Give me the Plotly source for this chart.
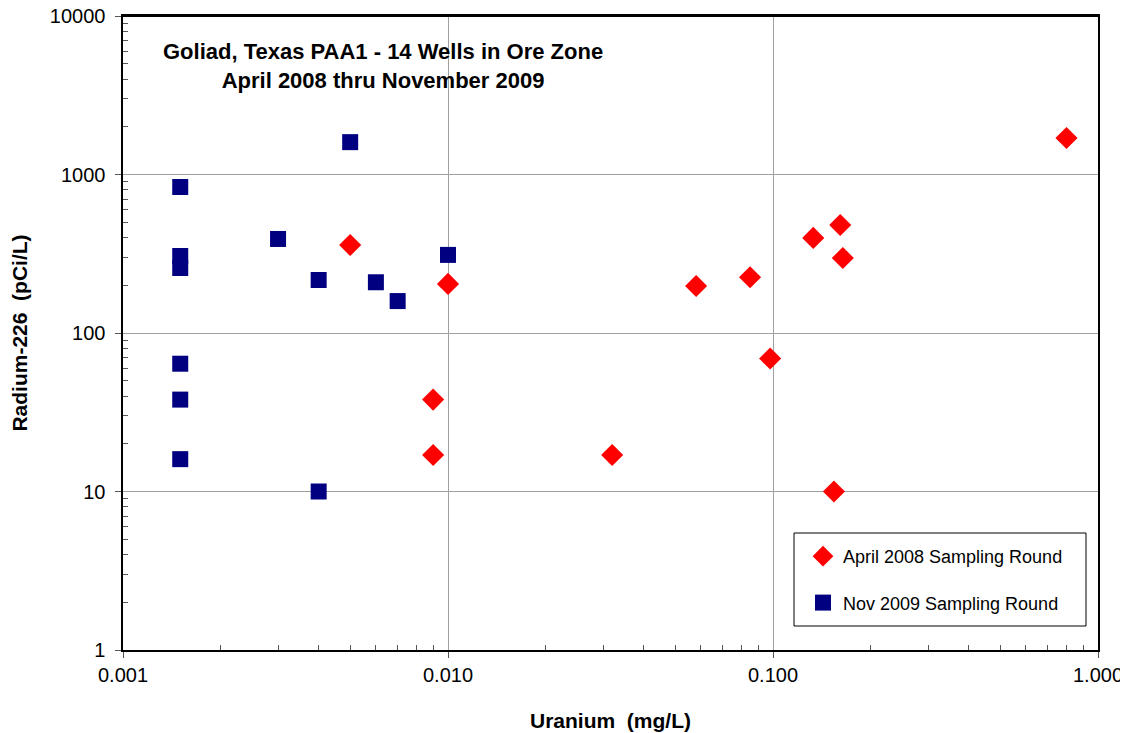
import plotly.graph_objects as go

# April 2008 sampling round (red diamonds)
apr_uranium = [0.005, 0.010, 0.009, 0.009, 0.032, 0.058, 0.085, 0.098, 0.133, 0.161, 0.164, 0.154, 0.80]
apr_radium = [359, 204, 38, 17, 17, 198, 225, 69, 398, 480, 297, 10, 1700]

# Nov 2009 sampling round (navy squares)
nov_uranium = [0.0015, 0.0015, 0.0015, 0.0015, 0.0015, 0.0015, 0.003, 0.004, 0.004, 0.005, 0.006, 0.007, 0.010]
nov_radium = [834, 306, 257, 64, 38, 16, 392, 216, 10, 1600, 209, 159, 311]

x_tickvals = [0.001, 0.01, 0.1, 1]
x_ticktext = ["0.001", "0.010", "0.100", "1.000"]
y_tickvals = [1, 10, 100, 1000, 10000]
y_ticktext = ["1\u00a0", "10\u00a0", "100\u00a0", "1000\u00a0", "10000\u00a0"]

x_minor = [m * d for d in [0.001, 0.01, 0.1] for m in range(2, 10)]
y_minor = [m * d for d in [1, 10, 100, 1000] for m in range(2, 10)]

FONT = "Liberation Sans, Arial, sans-serif"

# page has an 8px body margin; plot area target (screen px): x 123..1098, y 16..650
L, T, PW, PH = 115, 8, 975, 634
W, H = 1120, 725

fig = go.Figure()
fig.add_trace(go.Scatter(
    x=apr_uranium, y=apr_radium, mode="markers", name="April 2008 Sampling Round",
    legendgroup="a",
    marker=dict(symbol="diamond", size=17, color="#FF0000", line=dict(width=0)),
))
fig.add_trace(go.Scatter(
    x=nov_uranium, y=nov_radium, mode="markers", name="Nov 2009 Sampling Round",
    legendgroup="b",
    marker=dict(symbol="square", size=16, color="#000080", line=dict(width=0)),
))

axis_common = dict(
    type="log", showline=True, linecolor="black", linewidth=2, mirror=True,
    showgrid=True, gridcolor="#A0A0A0", gridwidth=1,
    ticks="outside", ticklen=6, tickcolor="#555555", tickwidth=1,
    zeroline=False, automargin=False, ticklabeloverflow="allow",
)

fig.update_xaxes(
    **axis_common,
    range=[-3, 0], tickvals=x_tickvals, ticktext=x_ticktext,
    tickfont=dict(family=FONT, size=20, color="black"),
    minor=dict(tickvals=x_minor, ticks="inside", ticklen=5, tickcolor="#555555", showgrid=False),
    title=dict(text="<b>Uranium  (mg/L)</b>", font=dict(family=FONT, size=21, color="black"), standoff=28),
)
fig.update_yaxes(
    **axis_common,
    range=[0, 4], tickvals=y_tickvals, ticktext=y_ticktext,
    tickfont=dict(family=FONT, size=20, color="black"),
    minor=dict(tickvals=y_minor, ticks="inside", ticklen=5, tickcolor="#555555", showgrid=False),
    title=dict(text="<b>Radium-226  (pCi/L)</b>", font=dict(family=FONT, size=21, color="black"), standoff=28),
)

# top border of the plot area
fig.add_shape(type="line", xref="paper", yref="paper", x0=0, x1=1, y0=1, y1=1,
              line=dict(color="black", width=2), layer="above")

fig.add_annotation(
    text="<b>Goliad, Texas PAA1 - 14 Wells in Ore Zone<br>April 2008 thru November 2009</b>",
    xref="paper", yref="paper", x=(383 - 123) / PW, y=(650 - 37) / PH, xanchor="center", yanchor="top",
    showarrow=False, align="center",
    font=dict(family=FONT, size=22, color="black"),
)

# legend box
fig.add_shape(type="rect", xref="paper", yref="paper",
              x0=(794 - 123) / PW, x1=(1086 - 123) / PW,
              y0=(650 - 626) / PH, y1=(650 - 533) / PH,
              line=dict(color="black", width=1), fillcolor="white", layer="above")

fig.update_layout(
    width=W, height=H,
    margin=dict(l=L, r=W - L - PW, t=T, b=H - T - PH),
    paper_bgcolor="white", plot_bgcolor="white",
    showlegend=True,
    legend=dict(
        x=(803 - 123) / PW, y=(650 - 538) / PH, xanchor="left", yanchor="top",
        bgcolor="rgba(0,0,0,0)", borderwidth=0,
        font=dict(family=FONT, size=18, color="black"),
        tracegroupgap=20, itemwidth=30,
    ),
)

fig.write_html("out.html")
